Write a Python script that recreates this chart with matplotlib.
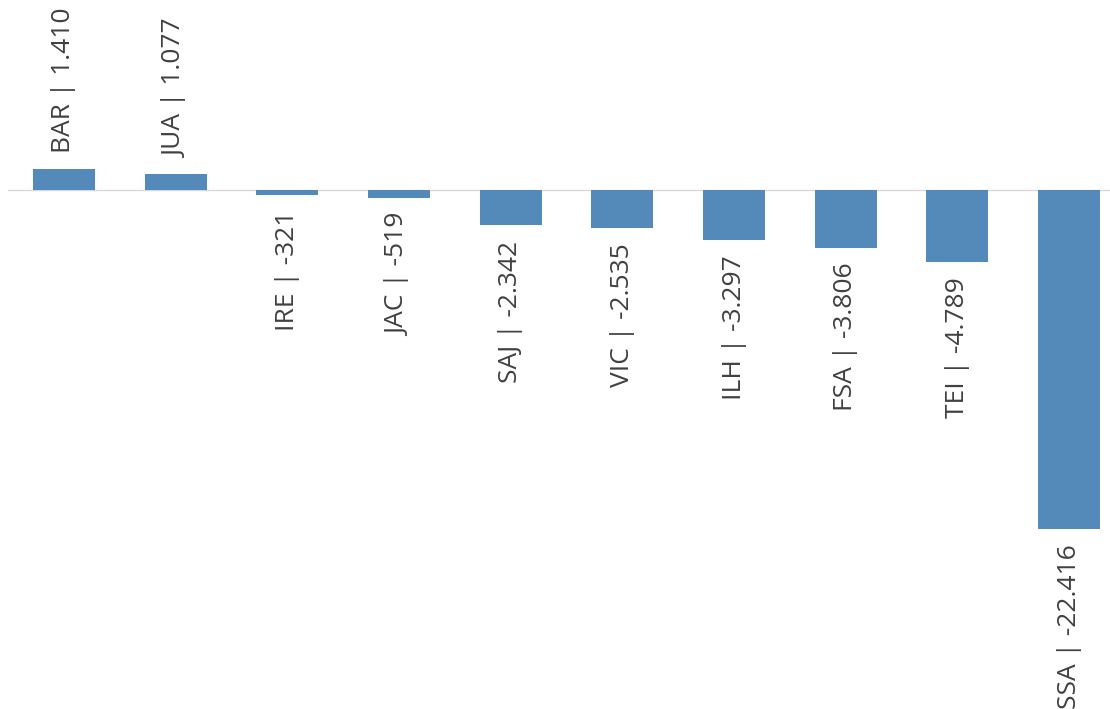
import matplotlib
matplotlib.use("Agg")
import matplotlib.pyplot as plt

categories = ["BAR", "JUA", "IRE", "JAC", "SAJ", "VIC", "ILH", "FSA", "TEI", "SSA"]
values = [1410, 1077, -321, -519, -2342, -2535, -3297, -3806, -4789, -22416]

W, H = 1110, 709
fig = plt.figure(figsize=(W / 100, H / 100), dpi=100)
ax = fig.add_axes([0, 0, 1, 1])
ax.set_axis_off()

spacing = 111.67
ax.set_xlim(-64 / spacing, 9 + (W - 1069) / spacing)
upp = 22416 / 339.0
ax.set_ylim(-(H - 190) * upp, 190 * upp)

x = list(range(len(categories)))
ax.plot([-0.5, 9.6], [0, 0], color="#d9d9d9", lw=1.0, zorder=1)
ax.bar(x, values, width=62 / spacing, color="#548ab9", zorder=2)

def fmt(v):
    return f"{v:,}".replace(",", ".")

for xi, c, v in zip(x, categories, values):
    lab = f"{c} | {fmt(v)}"
    if v >= 0:
        ax.annotate(lab, (xi, v), xytext=(0, 11), textcoords="offset points",
                    rotation=90, ha="center", va="bottom", fontsize=19,
                    family="Open Sans", weight="normal", color="#404040")
    else:
        ax.annotate(lab, (xi, v), xytext=(0, -11), textcoords="offset points",
                    rotation=90, ha="center", va="top", fontsize=19,
                    family="Open Sans", weight="normal", color="#404040")

fig.savefig("out.png", dpi=100)
